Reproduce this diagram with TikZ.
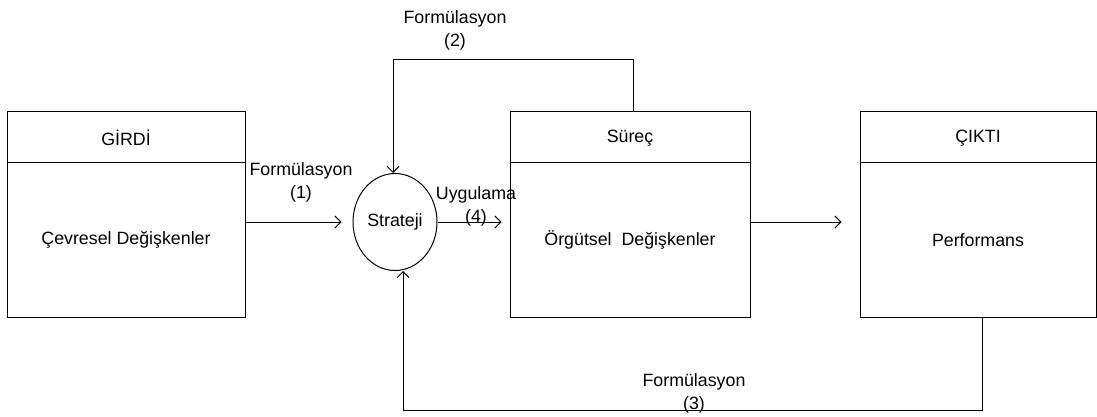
\documentclass[tikz,border=0pt]{standalone}
\usepackage{fontspec}
\setmainfont{Liberation Sans}
\usetikzlibrary{arrows.meta,shapes.geometric}
\begin{document}
\begin{tikzpicture}[x=1pt,y=-1pt,
  every node/.style={font=\fontsize{17.8}{23}\selectfont, text=black},
  box/.style={draw=black, line width=1pt, rectangle, inner sep=0pt, minimum height=205pt},
  oval/.style={draw=black, line width=1pt, ellipse, inner sep=0pt, minimum width=84pt, minimum height=97pt},
  lbl/.style={align=center, inner sep=0pt},
  arr/.style={draw=black, line width=1pt, -{Straight Barb[length=6pt,width=12pt]}},
  link/.style={draw=black, line width=1pt}]
\useasboundingbox (0,0) rectangle (1097,417);

% three blocks with a header strip
\node[box, minimum width=238pt] (girdi) at (126,214.5) {};
\node[box, minimum width=240pt] (surec) at (630,214.5) {};
\node[box, minimum width=236pt] (cikti) at (978,214.5) {};
\foreach \b in {girdi,surec,cikti}
  \draw[link] ([yshift=-51pt]\b.north west) -- ([yshift=-51pt]\b.north east);

\node (girdiH) at (126,138) {GİRDİ};
\node (girdiB) at (126,240) {Çevresel Değişkenler};
\node (surecH) at (630,138) {Süreç};
\node (surecB) at (630,240) {Örgütsel~ Değişkenler};
\node (ciktiH) at (978,138) {ÇIKTI};
\node (ciktiB) at (978,240) {Performans};

% strategy
\node[oval] (strateji) at (395,222) {Strateji};

% forward flow
\draw[arr, shorten >=11pt] (girdi.east |- strateji.west) -- (strateji.west);
\draw[arr, shorten >=8pt] (strateji.east) -- (surec.west |- strateji.east);
\draw[arr, shorten >=18pt] (surec.east |- strateji.east) -- (cikti.west |- strateji.east);

% feedback loops
\coordinate (loopTop) at (393,60);
\draw[arr] ([xshift=3pt]surec.north) |- (loopTop) -- (loopTop |- strateji.north);
\coordinate (loopBot) at (403,410);
\draw[arr] ([xshift=4pt]cikti.south) |- (loopBot) -- (strateji.south -| loopBot);

% labels
\node[lbl] (lab1) at (301,182) {Formülasyon\\(1)};
\node[lbl] (lab2) at (455,30) {Formülasyon\\(2)};
\node[lbl] (lab4) at (476,206) {Uygulama\\(4)};
\node[lbl] (lab3) at (694,393.5) {Formülasyon\\(3)};
\end{tikzpicture}
\end{document}
